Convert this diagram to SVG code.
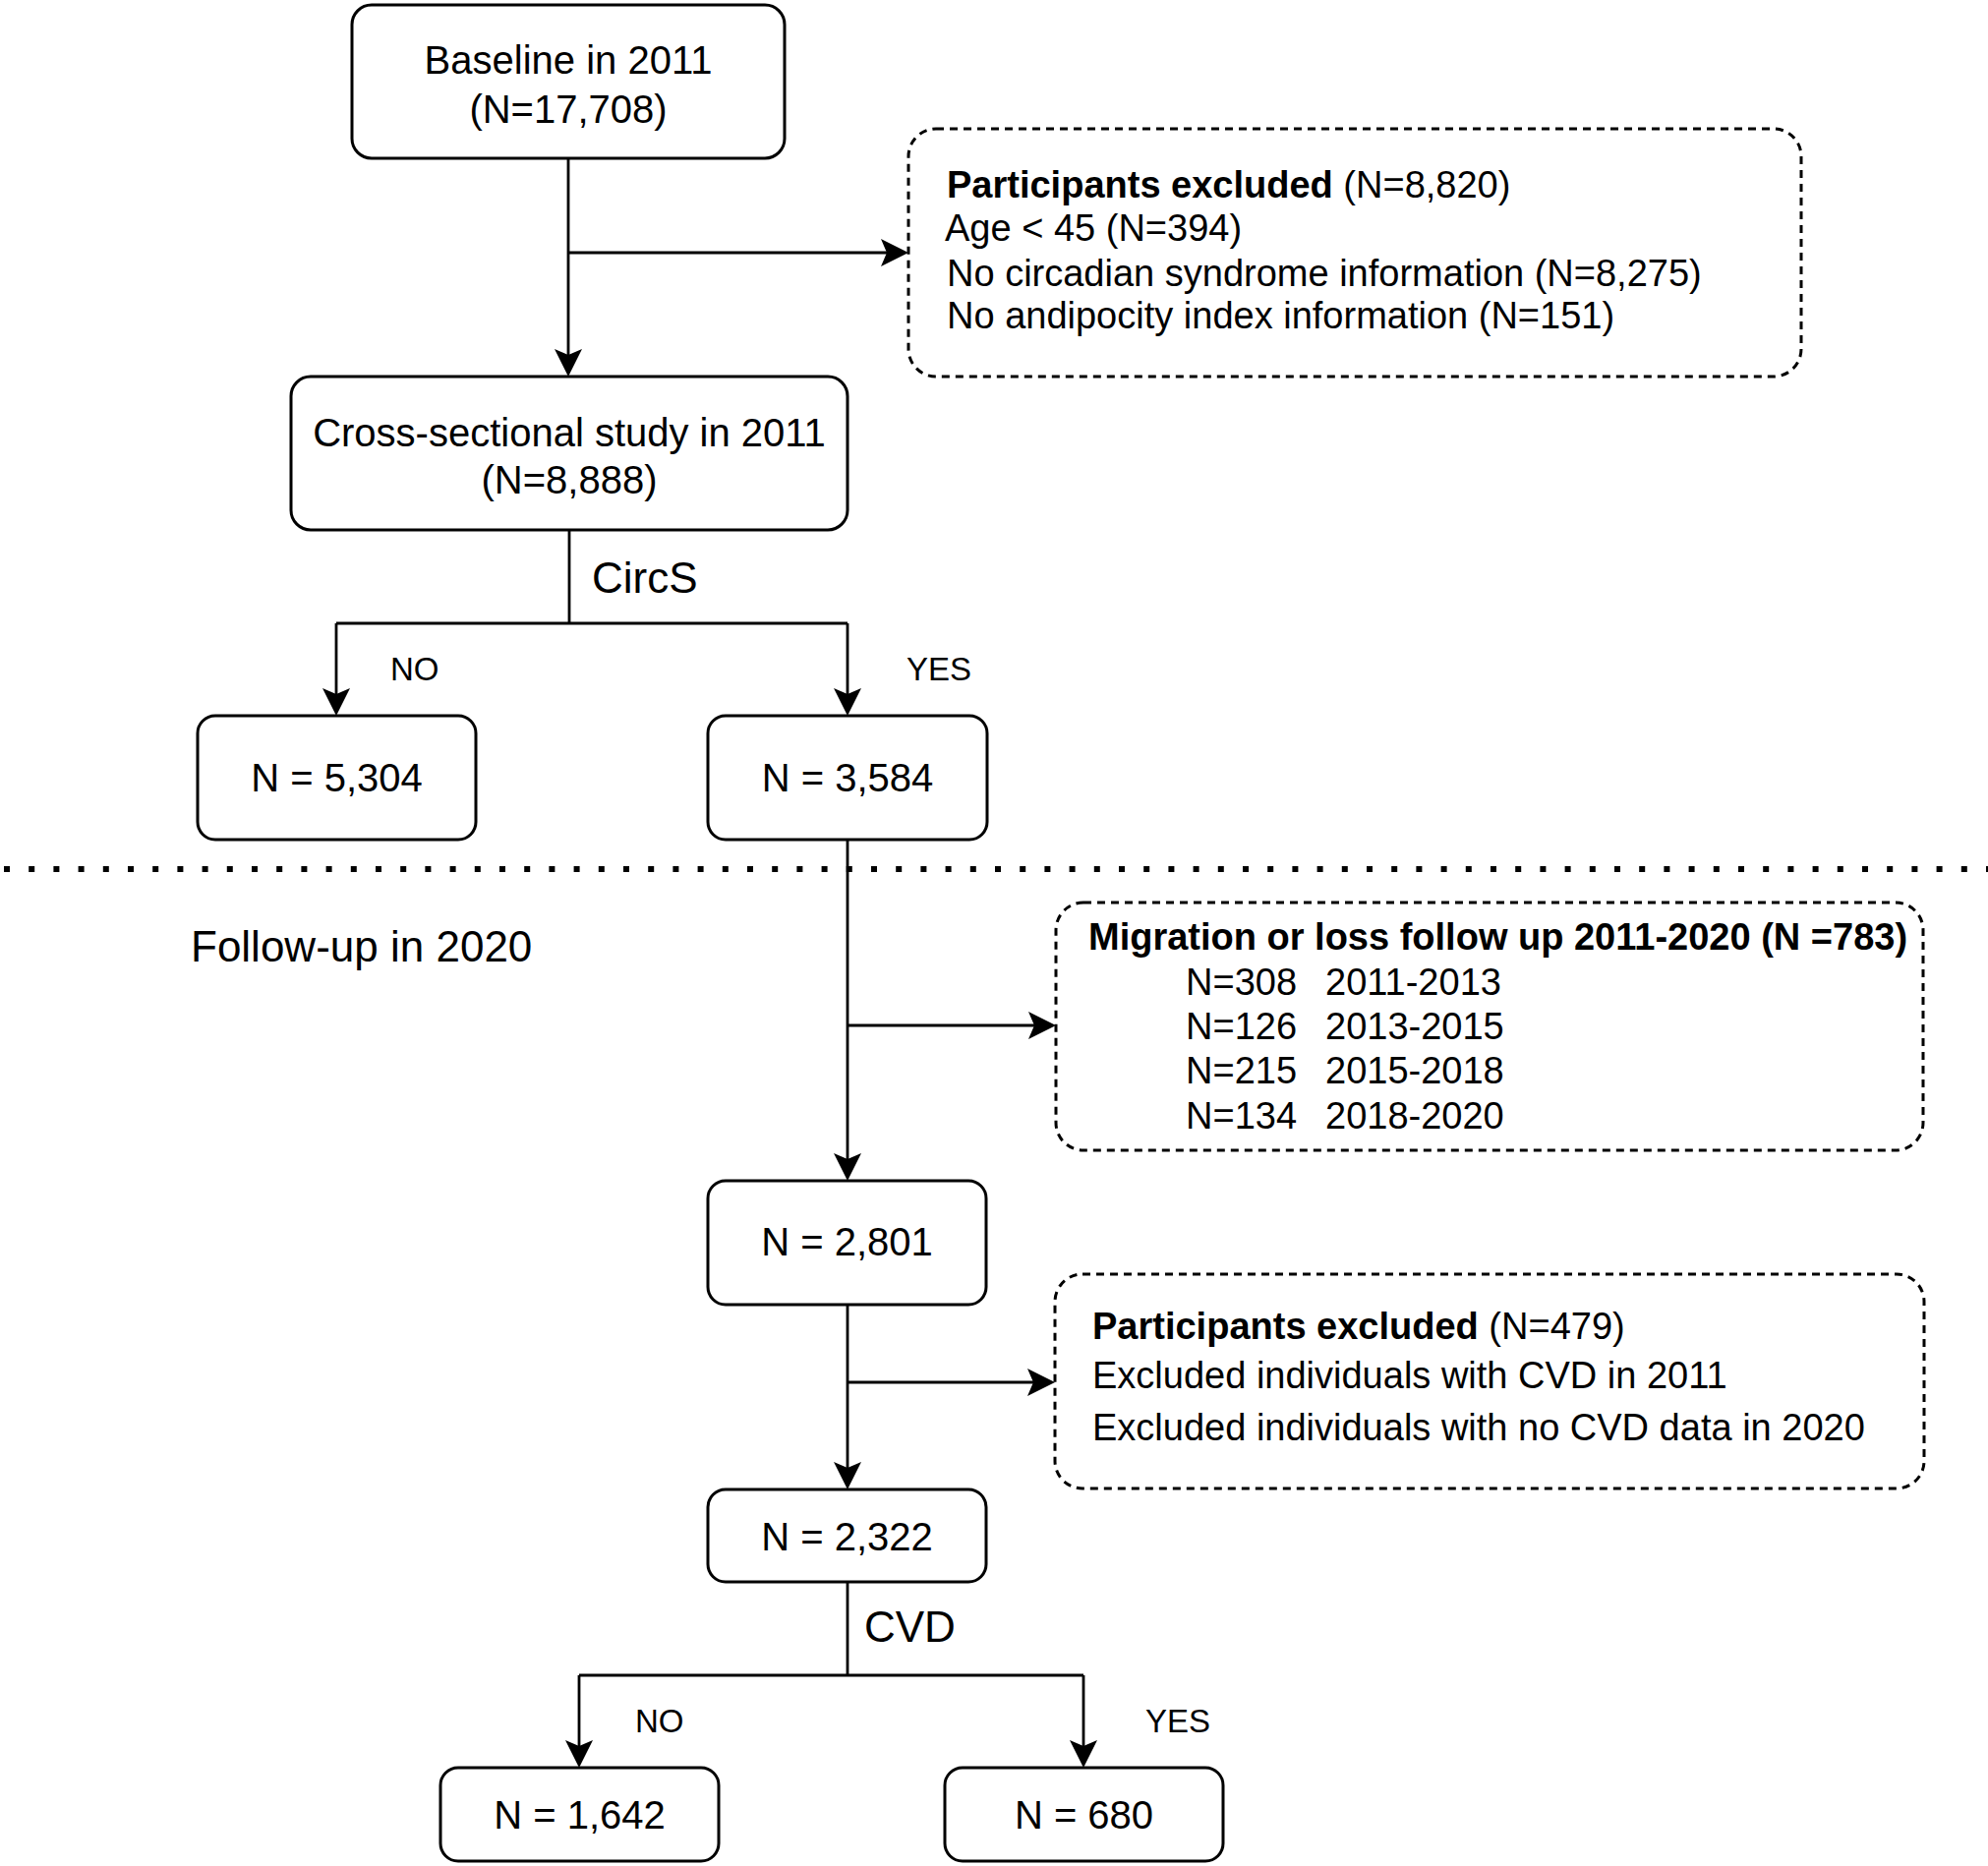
<svg xmlns="http://www.w3.org/2000/svg" width="2022" height="1898" viewBox="0 0 2022 1898">
<style>
  .box{fill:#fff;stroke:#000;stroke-width:3}
  .dbox{fill:#fff;stroke:#000;stroke-width:3;stroke-dasharray:8 6}
  .t{font-family:"Liberation Sans",Arial,sans-serif;fill:#000}
  .m{font-size:40px;text-anchor:middle}
  .e{font-size:38px}
  .lbl{font-size:33px}
  .big{font-size:44px}
  .b{font-weight:bold}
  .c{fill:none;stroke:#000;stroke-width:2.8}
  .a{marker-end:url(#arr)}
</style>
<defs>
  <marker id="arr" markerUnits="userSpaceOnUse" markerWidth="30" markerHeight="30" refX="18" refY="14" orient="auto" viewBox="0 0 30 30">
    <path d="M0,0 L28,14 L0,28 L6,14 Z" fill="#000"/>
  </marker>
</defs>
<rect width="2022" height="1898" fill="#fff"/>
<line x1="4" y1="884" x2="2022" y2="884" stroke="#000" stroke-width="6" stroke-dasharray="6 19.2"/>
<g id="connectors">
  <line class="c a" x1="578" y1="161" x2="578" y2="373"/>
  <line class="c a" x1="578" y1="257" x2="914" y2="257"/>
  <line class="c" x1="579" y1="539" x2="579" y2="634"/>
  <line class="c" x1="342" y1="634" x2="862" y2="634"/>
  <line class="c a" x1="342" y1="634" x2="342" y2="718"/>
  <line class="c a" x1="862" y1="634" x2="862" y2="718"/>
  <line class="c a" x1="862" y1="854" x2="862" y2="1191"/>
  <line class="c a" x1="862" y1="1043" x2="1064" y2="1043"/>
  <line class="c a" x1="862" y1="1327" x2="862" y2="1505"/>
  <line class="c a" x1="862" y1="1406" x2="1063" y2="1406"/>
  <line class="c" x1="862" y1="1609" x2="862" y2="1704"/>
  <line class="c" x1="589" y1="1704" x2="1102" y2="1704"/>
  <line class="c a" x1="589" y1="1704" x2="589" y2="1788"/>
  <line class="c a" x1="1102" y1="1704" x2="1102" y2="1788"/>
</g>
<g id="labels">
  <text class="t big" x="602" y="603">CircS</text>
  <text class="t lbl" x="397" y="692">NO</text>
  <text class="t lbl" x="922" y="692">YES</text>
  <text class="t big" x="879" y="1670">CVD</text>
  <text class="t lbl" x="646" y="1762">NO</text>
  <text class="t lbl" x="1165" y="1762">YES</text>
  <text class="t big" x="194" y="978">Follow-up in 2020</text>
</g>
<g id="baseline">
  <rect class="box" x="358" y="5" width="440" height="156" rx="20"/>
  <text class="t m" x="578" y="75">Baseline in 2011</text>
  <text class="t m" x="578" y="125">(N=17,708)</text>
</g>
<g id="excluded1">
  <rect class="dbox" x="924" y="131" width="908" height="252" rx="28"/>
  <text class="t e" x="963" y="201"><tspan class="b">Participants excluded</tspan> (N=8,820)</text>
  <text class="t e" x="961" y="245">Age &lt; 45 (N=394)</text>
  <text class="t e" x="963" y="291">No circadian syndrome information (N=8,275)</text>
  <text class="t e" x="963" y="334">No andipocity index information (N=151)</text>
</g>
<g id="cross">
  <rect class="box" x="296" y="383" width="566" height="156" rx="20"/>
  <text class="t m" x="579" y="454">Cross-sectional study in 2011</text>
  <text class="t m" x="579" y="502">(N=8,888)</text>
</g>
<g id="circs-no">
  <rect class="box" x="201" y="728" width="283" height="126" rx="18"/>
  <text class="t m" x="342.5" y="805">N = 5,304</text>
</g>
<g id="circs-yes">
  <rect class="box" x="720" y="728" width="284" height="126" rx="18"/>
  <text class="t m" x="862" y="805">N = 3,584</text>
</g>
<g id="migration">
  <rect class="dbox" x="1074" y="918" width="882" height="252" rx="28"/>
  <text class="t e b" x="1107" y="966">Migration or loss follow up 2011-2020 (N =783)</text>
  <text class="t e" x="1206" y="1012">N=308</text>
  <text class="t e" x="1348" y="1012">2011-2013</text>
  <text class="t e" x="1206" y="1057">N=126</text>
  <text class="t e" x="1348" y="1057">2013-2015</text>
  <text class="t e" x="1206" y="1102">N=215</text>
  <text class="t e" x="1348" y="1102">2015-2018</text>
  <text class="t e" x="1206" y="1148">N=134</text>
  <text class="t e" x="1348" y="1148">2018-2020</text>
</g>
<g id="n2801">
  <rect class="box" x="720" y="1201" width="283" height="126" rx="18"/>
  <text class="t m" x="861.5" y="1277">N = 2,801</text>
</g>
<g id="excluded2">
  <rect class="dbox" x="1073" y="1296" width="884" height="218" rx="28"/>
  <text class="t e" x="1111" y="1362"><tspan class="b">Participants excluded</tspan> (N=479)</text>
  <text class="t e" x="1111" y="1412">Excluded individuals with CVD in 2011</text>
  <text class="t e" x="1111" y="1465">Excluded individuals with no CVD data in 2020</text>
</g>
<g id="n2322">
  <rect class="box" x="720" y="1515" width="283" height="94" rx="18"/>
  <text class="t m" x="861.5" y="1577">N = 2,322</text>
</g>
<g id="cvd-no">
  <rect class="box" x="448" y="1798" width="283" height="95" rx="18"/>
  <text class="t m" x="589.5" y="1860">N = 1,642</text>
</g>
<g id="cvd-yes">
  <rect class="box" x="961" y="1798" width="283" height="95" rx="18"/>
  <text class="t m" x="1102.5" y="1860">N = 680</text>
</g>
</svg>
